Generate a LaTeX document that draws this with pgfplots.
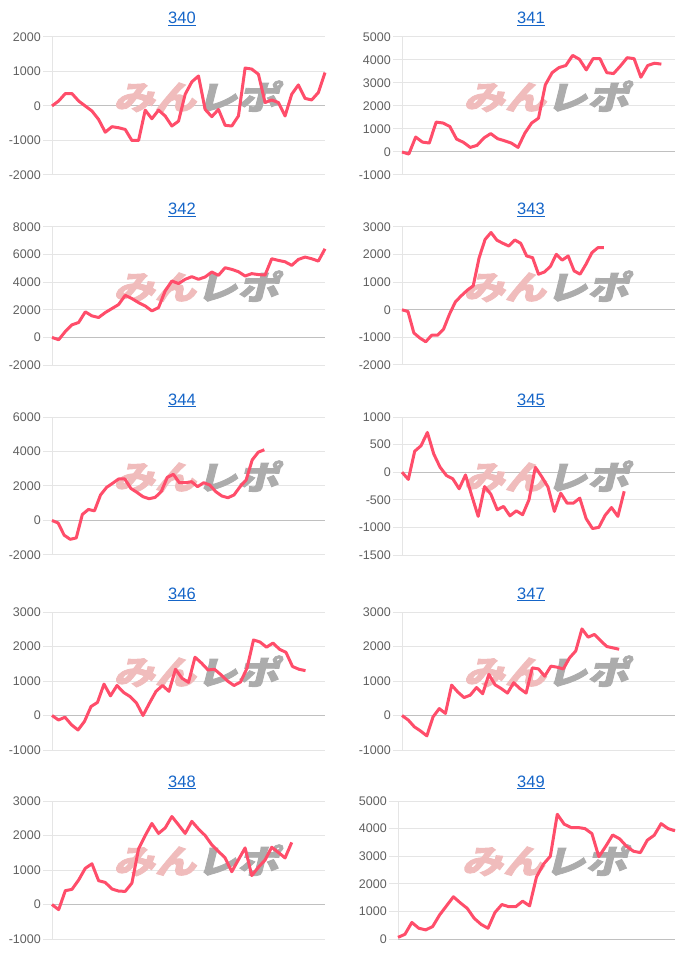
\documentclass[border=0pt]{standalone}
\usepackage{fontspec}
\setmainfont{Liberation Sans}
\newfontfamily\jp[FakeBold=2.5]{Noto Sans CJK JP}
\usepackage{pgfplots}
\pgfplotsset{compat=1.18}

\definecolor{linec}{RGB}{255,77,106}
\definecolor{titlec}{RGB}{21,101,200}
\definecolor{gridc}{RGB}{229,229,229}
\definecolor{zeroc}{RGB}{192,192,192}
\definecolor{tickc}{RGB}{96,96,96}
\definecolor{wmpink}{RGB}{240,188,188}
\definecolor{wmgrey}{RGB}{172,172,172}

\pgfplotsset{panel/.style={
  scale only axis, width=273pt, height=138pt, anchor=north west,
  xmin=0, axis x line=none, axis y line=left,
  axis line style={-, draw=gridc, line width=1pt},
  xtick=\empty, ymajorgrids, grid style={gridc, line width=1pt},
  tick align=outside, major tick length=9pt,
  ytick style={draw=gridc, line width=1pt},
  yticklabel style={font=\fontsize{12.5}{12.5}\selectfont, text=tickc, inner sep=2pt},
  /pgf/number format/assume math mode=true,
  /pgf/number format/set thousands separator={},
  extra y ticks={0}, extra y tick labels={},
  extra y tick style={grid style={zeroc, line width=1pt}},
  clip=false,
}}
\pgfplotsset{series/.style={linec, line width=3pt, line join=round, no marks}}

% watermark
\newcommand{\wm}{\node[font={\jp\bfseries\fontsize{33}{33}\selectfont}, xscale=1.25, xslant=0.2, inner sep=0pt]
  at (rel axis cs:0.54,0.57) {\textcolor{wmpink}{みん}\textcolor{wmgrey}{レポ}};}
% underlined title, #2 = baseline from top
\newcommand{\ttl}[3]{\node[anchor=base, text=titlec, font=\fontsize{16.5}{16.5}\selectfont, inner sep=0pt] (t) at (#1pt,-#2pt) {#3};
  \draw[titlec, line width=1.1pt] ([yshift=-1.8pt]t.base west) -- ([yshift=-1.8pt]t.base east);}

\begin{document}
\begin{tikzpicture}
\useasboundingbox (0,0) rectangle (700pt,-957pt);

\ttl{182}{24}{340}
\begin{axis}[panel, at={(52pt,-37pt)}, xmax=41, ymin=-2000, ymax=2000, ytick={-2000,-1000,...,2000}]
\wm
\addplot[series] coordinates {(0,0)(1,145)(2,360)(3,360)(4,145)(5,0)(6,-145)(7,-390)(8,-760)(9,-600)(10,-630)(11,-680)(12,-1000)(13,-1000)(14,-120)(15,-370)(16,-120)(17,-290)(18,-580)(19,-440)(20,340)(21,700)(22,870)(23,-100)(24,-310)(25,-100)(26,-560)(27,-580)(28,-290)(29,1100)(30,1070)(31,920)(32,100)(33,175)(34,100)(35,-290)(36,340)(37,610)(38,220)(39,175)(40,390)(41,970)};
\end{axis}

\ttl{531}{24}{341}
\begin{axis}[panel, at={(402pt,-37pt)}, xmax=40, ymin=-1000, ymax=5000, ytick={-1000,0,...,5000}]
\wm
\addplot[series] coordinates {(0,0)(1,-90)(2,650)(3,430)(4,390)(5,1300)(6,1260)(7,1110)(8,560)(9,420)(10,200)(11,290)(12,610)(13,800)(14,580)(15,490)(16,390)(17,200)(18,820)(19,1260)(20,1470)(21,2920)(22,3450)(23,3670)(24,3760)(25,4200)(26,4030)(27,3570)(28,4060)(29,4060)(30,3450)(31,3410)(32,3740)(33,4100)(34,4060)(35,3250)(36,3760)(37,3860)(38,3820)};
\end{axis}

\ttl{182}{215}{342}
\begin{axis}[panel, at={(52pt,-227pt)}, xmax=41, ymin=-2000, ymax=8000, ytick={-2000,0,...,8000}]
\wm
\addplot[series] coordinates {(0,0)(1,-170)(2,430)(3,910)(4,1080)(5,1850)(6,1560)(7,1440)(8,1800)(9,2090)(10,2380)(11,3050)(12,2810)(13,2520)(14,2280)(15,1920)(16,2160)(17,3370)(18,4090)(19,3900)(20,4210)(21,4400)(22,4210)(23,4380)(24,4740)(25,4500)(26,5050)(27,4930)(28,4760)(29,4450)(30,4620)(31,4550)(32,4520)(33,5700)(34,5580)(35,5480)(36,5220)(37,5650)(38,5820)(39,5700)(40,5530)(41,6420)};
\end{axis}

\ttl{531}{215}{343}
\begin{axis}[panel, at={(402pt,-227pt)}, xmax=46, ymin=-2000, ymax=3000, ytick={-2000,-1000,...,3000}]
\wm
\addplot[series] coordinates {(0,0)(1,-60)(2,-840)(3,-1020)(4,-1160)(5,-920)(6,-920)(7,-700)(8,-160)(9,290)(10,510)(11,710)(12,870)(13,1890)(14,2550)(15,2800)(16,2520)(17,2410)(18,2310)(19,2530)(20,2410)(21,1950)(22,1890)(23,1290)(24,1370)(25,1570)(26,2010)(27,1800)(28,1950)(29,1410)(30,1290)(31,1650)(32,2070)(33,2250)(34,2250)};
\end{axis}

\ttl{182}{405}{344}
\begin{axis}[panel, at={(52pt,-417pt)}, xmax=45, ymin=-2000, ymax=6000, ytick={-2000,0,...,6000}]
\wm
\addplot[series] coordinates {(0,0)(1,-140)(2,-850)(3,-1090)(4,-1010)(5,350)(6,640)(7,560)(8,1480)(9,1920)(10,2160)(11,2410)(12,2410)(13,1860)(14,1630)(15,1380)(16,1260)(17,1340)(18,1670)(19,2500)(20,2680)(21,2190)(22,2190)(23,2250)(24,1960)(25,2190)(26,2060)(27,1670)(28,1420)(29,1320)(30,1480)(31,1960)(32,2350)(33,3510)(34,3960)(35,4100)};
\end{axis}

\ttl{531}{405}{345}
\begin{axis}[panel, at={(402pt,-417pt)}, xmax=43, ymin=-1500, ymax=1000, ytick={-1500,-1000,...,1000}]
\wm
\addplot[series] coordinates {(0,0)(1,-130)(2,380)(3,480)(4,720)(5,330)(6,90)(7,-60)(8,-120)(9,-300)(10,-50)(11,-430)(12,-800)(13,-260)(14,-400)(15,-680)(16,-620)(17,-790)(18,-700)(19,-770)(20,-500)(21,90)(22,-80)(23,-270)(24,-710)(25,-380)(26,-560)(27,-560)(28,-470)(29,-840)(30,-1020)(31,-1000)(32,-780)(33,-640)(34,-800)(35,-345)};
\end{axis}

\ttl{182}{599}{346}
\begin{axis}[panel, at={(52pt,-612pt)}, xmax=42, ymin=-1000, ymax=3000, ytick={-1000,0,...,3000}]
\wm
\addplot[series] coordinates {(0,0)(1,-130)(2,-50)(3,-270)(4,-420)(5,-170)(6,260)(7,380)(8,910)(9,570)(10,870)(11,670)(12,550)(13,360)(14,0)(15,360)(16,700)(17,870)(18,700)(19,1340)(20,1080)(21,960)(22,1690)(23,1520)(24,1320)(25,1340)(26,1180)(27,1000)(28,870)(29,970)(30,1370)(31,2190)(32,2130)(33,1980)(34,2100)(35,1920)(36,1830)(37,1420)(38,1340)(39,1300)};
\end{axis}

\ttl{531}{599}{347}
\begin{axis}[panel, at={(402pt,-612pt)}, xmax=44, ymin=-1000, ymax=3000, ytick={-1000,0,...,3000}]
\wm
\addplot[series] coordinates {(0,0)(1,-130)(2,-330)(3,-450)(4,-590)(5,-40)(6,200)(7,60)(8,880)(9,680)(10,520)(11,590)(12,810)(13,630)(14,1190)(15,890)(16,780)(17,650)(18,950)(19,780)(20,650)(21,1380)(22,1350)(23,1140)(24,1430)(25,1400)(26,1350)(27,1670)(28,1870)(29,2510)(30,2270)(31,2350)(32,2170)(33,2000)(34,1960)(35,1920)};
\end{axis}

\ttl{182}{787}{348}
\begin{axis}[panel, at={(52pt,-801pt)}, xmax=41, ymin=-1000, ymax=3000, ytick={-1000,0,...,3000}]
\wm
\addplot[series] coordinates {(0,0)(1,-150)(2,400)(3,440)(4,710)(5,1050)(6,1180)(7,690)(8,640)(9,450)(10,390)(11,380)(12,620)(13,1610)(14,2000)(15,2350)(16,2060)(17,2220)(18,2550)(19,2310)(20,2060)(21,2410)(22,2190)(23,2000)(24,1730)(25,1540)(26,1350)(27,950)(28,1300)(29,1640)(30,840)(31,1080)(32,1290)(33,1660)(34,1510)(35,1350)(36,1800)};
\end{axis}

\ttl{531}{787}{349}
\begin{axis}[panel, at={(398pt,-801pt)}, width=277pt, xmax=40, ymin=0, ymax=5000, ytick={0,1000,...,5000}]
\wm
\addplot[series] coordinates {(0,60)(1,170)(2,600)(3,390)(4,330)(5,450)(6,870)(7,1200)(8,1530)(9,1310)(10,1110)(11,750)(12,530)(13,390)(14,960)(15,1250)(16,1170)(17,1170)(18,1370)(19,1200)(20,2250)(21,2710)(22,3000)(23,4520)(24,4160)(25,4040)(26,4040)(27,4000)(28,3820)(29,2980)(30,3360)(31,3770)(32,3630)(33,3360)(34,3180)(35,3130)(36,3580)(37,3760)(38,4180)(39,4000)(40,3920)};
\end{axis}
\end{tikzpicture}
\end{document}
